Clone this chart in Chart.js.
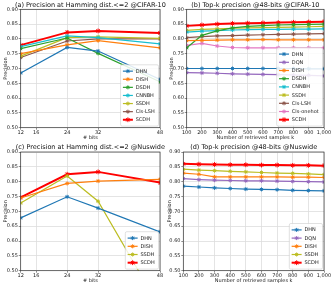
<!DOCTYPE html>
<html><head><meta charset="utf-8">
<script src="https://cdn.jsdelivr.net/npm/chart.js@4.4.1/dist/chart.umd.min.js"></script>
<style>
html,body{margin:0;padding:0;background:#fff;}
#wrap{position:relative;width:332px;height:286px;overflow:hidden;background:#fff}
canvas{position:absolute;left:0;top:0}
</style>
</head><body>
<div id="wrap">
<canvas id="ca" width="332" height="286"></canvas>
<canvas id="cb" width="332" height="286"></canvas>
<canvas id="cc" width="332" height="286"></canvas>
<canvas id="cd" width="332" height="286"></canvas>
</div>
<script>
// ---- data ----
const bitsCats = [12, 24, 32, 48];
const bitsTicks = [12, 16, 24, 32, 48];
const kCats = [100, 200, 300, 400, 500, 600, 700, 800, 900, 1000];
const kTicks = [100, 200, 300, 400, 500, 600, 700, 800, 900, 1000];
const yTicks = [0.50, 0.55, 0.60, 0.65, 0.70, 0.75, 0.80, 0.85, 0.90];

const titleA = "(a) Precision at Hamming dist.<=2 @CIFAR-10";
const titleB = "(b) Top-k precision @48-bits @CIFAR-10";
const titleC = "(c) Precision at Hamming dist.<=2 @Nuswide";
const titleD = "(d) Top-k precision @48-bits @Nuswide";

// (a)
const aDHN    = [0.685, 0.771, 0.759, 0.663];
const aDISH   = [0.750, 0.780, 0.794, 0.770];
const aDSDH   = [0.767, 0.803, 0.751, 0.655];
const aCNNBH  = [0.774, 0.810, 0.804, 0.783];
const aSSDH   = [0.742, 0.804, 0.807, 0.802];
const aClsLSH = [0.737, 0.793, 0.800, 0.800];
const aSCDH   = [0.779, 0.822, 0.827, 0.820];
// (b)
const bDHN       = [0.700, 0.700, 0.700, 0.700, 0.700, 0.700, 0.700, 0.700, 0.699, 0.699];
const bDQN       = [0.686, 0.685, 0.684, 0.682, 0.681, 0.680, 0.679, 0.678, 0.677, 0.675];
const bDISH      = [0.794, 0.795, 0.796, 0.797, 0.797, 0.798, 0.797, 0.797, 0.797, 0.797];
const bDSDH      = [0.770, 0.812, 0.827, 0.837, 0.842, 0.845, 0.847, 0.848, 0.849, 0.850];
const bCNNBH     = [0.823, 0.826, 0.828, 0.830, 0.831, 0.832, 0.832, 0.833, 0.833, 0.834];
const bSSDH      = [0.829, 0.832, 0.834, 0.836, 0.837, 0.838, 0.839, 0.840, 0.841, 0.842];
const bClsLSH    = [0.804, 0.808, 0.810, 0.811, 0.813, 0.814, 0.815, 0.816, 0.817, 0.818];
const bClsOnehot = [0.778, 0.785, 0.776, 0.771, 0.770, 0.770, 0.770, 0.770, 0.770, 0.770];
const bSCDH      = [0.844, 0.847, 0.850, 0.852, 0.853, 0.854, 0.855, 0.856, 0.857, 0.858];
// (c)
const cDHN  = [0.678, 0.749, 0.711, 0.631];
const cDISH = [0.745, 0.794, 0.802, 0.808];
const cSSDH = [0.728, 0.819, 0.734, 0.375];
const cSCDH = [0.747, 0.825, 0.833, 0.797];
// (d)
const dDHN  = [0.785, 0.782, 0.779, 0.777, 0.775, 0.774, 0.773, 0.771, 0.770, 0.769];
const dDQN  = [0.810, 0.807, 0.805, 0.804, 0.803, 0.803, 0.802, 0.801, 0.800, 0.799];
const dDISH = [0.829, 0.825, 0.816, 0.816, 0.816, 0.816, 0.816, 0.815, 0.815, 0.814];
const dSSDH = [0.842, 0.839, 0.837, 0.835, 0.833, 0.831, 0.829, 0.828, 0.826, 0.824];
const dSCDH = [0.860, 0.859, 0.858, 0.857, 0.857, 0.856, 0.856, 0.855, 0.855, 0.854];

// ---- styling ----
const COL = {
  DHN:'#1f77b4', DQN:'#9467bd', DISH:'#ff7f0e', DSDH:'#2ca02c', CNNBH:'#17becf',
  SSDH:'#bcbd22', 'Cls-LSH':'#8c564b', 'Cls-onehot':'#e377c2', SCDH:'#ff0000'
};
const FONT = 'DejaVu Sans';

function series(label, xs, ys) {
  const red = label === 'SCDH';
  return {
    label,
    data: xs.map((x, i) => ({x, y: ys[i]})),
    borderColor: COL[label], backgroundColor: COL[label],
    borderWidth: red ? 2 : 1.2,
    pointStyle: 'star', pointRadius: red ? 2.4 : 2.0, pointBorderWidth: 1,
    pointBackgroundColor: COL[label], pointBorderColor: COL[label],
    tension: 0, fill: false
  };
}

function xScale(min, max, ticks, label, h) {
  return {
    type: 'linear', min, max,
    afterBuildTicks: s => { s.ticks = ticks.map(v => ({value: v})); },
    ticks: {font: {family: FONT, size: 5}, color: '#222', padding: 0.5, autoSkip: false, maxRotation: 0},
    grid: {color: '#dddddd', lineWidth: 0.8, tickLength: 2, tickColor: '#444', tickWidth: 0.6},
    border: {display: false},
    title: {display: true, text: label, font: {family: FONT, size: 5}, color: '#222', padding: {top: 0, bottom: 2.5}},
    afterFit: s => { s.height = h; }
  };
}
function yScale(w, tpad) {
  return {
    type: 'linear', min: 0.5, max: 0.9,
    afterBuildTicks: s => { s.ticks = yTicks.map(v => ({value: v})); },
    ticks: {font: {family: FONT, size: 5}, color: '#222', padding: 0.8, autoSkip: false,
            callback: v => Number(v).toFixed(2)},
    grid: {color: '#dddddd', lineWidth: 0.8, tickLength: 2, tickColor: '#444', tickWidth: 0.6},
    border: {display: false},
    title: {display: true, text: 'Precision', font: {family: FONT, size: 5}, color: '#222', padding: {top: tpad, bottom: 0}},
    afterFit: s => { s.width = w; }
  };
}

const framePlugin = {
  id: 'frame',
  afterDatasetsDraw(chart) {
    const {ctx, chartArea: a} = chart;
    ctx.save();
    ctx.strokeStyle = '#333'; ctx.lineWidth = 0.7;
    ctx.strokeRect(a.left, a.top, a.right - a.left, a.bottom - a.top);
    ctx.restore();
  }
};
const titlePlugin = {
  id: 'ptitle',
  afterDraw(chart, args, opts) {
    const {ctx, chartArea: a} = chart;
    ctx.save();
    ctx.font = '6.5px "' + FONT + '"';
    ctx.fillStyle = '#111'; ctx.textAlign = 'center'; ctx.textBaseline = 'middle';
    ctx.fillText(opts.text, (a.left + a.right) / 2, a.top - 4.4);
    ctx.restore();
  }
};
const legendPlugin = {
  id: 'ilegend',
  afterDraw(chart, args, opts) {
    const {ctx, chartArea: a} = chart;
    const ds = chart.data.datasets;
    ctx.save();
    ctx.font = '5px "' + FONT + '"';
    const rowH = opts.rowH || 8.2, pad = 2.3, sample = 10, gap = 2.8;
    const tw = Math.max(...ds.map(d => ctx.measureText(d.label).width));
    const w = pad + sample + gap + tw + pad + 1.5;
    const h = pad * 2 + rowH * ds.length;
    const x = a.right - 1.5 - w, y = a.bottom - 1.6 - h;
    ctx.beginPath();
    if (ctx.roundRect) ctx.roundRect(x, y, w, h, 1.5); else ctx.rect(x, y, w, h);
    ctx.fillStyle = 'rgba(255,255,255,0.85)'; ctx.fill();
    ctx.strokeStyle = '#cccccc'; ctx.lineWidth = 0.6; ctx.stroke();
    ds.forEach((d, i) => {
      const cy = y + pad + rowH * (i + 0.5);
      ctx.strokeStyle = d.borderColor; ctx.lineWidth = d.borderWidth;
      ctx.beginPath(); ctx.moveTo(x + pad, cy); ctx.lineTo(x + pad + sample, cy); ctx.stroke();
      ctx.fillStyle = d.borderColor; ctx.lineWidth = 1;
      Chart.helpers.drawPoint(ctx, {pointStyle: 'star', radius: d.pointRadius, rotation: 0, borderWidth: 1}, x + pad + sample / 2, cy);
      ctx.fillStyle = '#222'; ctx.textAlign = 'left'; ctx.textBaseline = 'middle';
      ctx.fillText(d.label, x + pad + sample + gap, cy + 0.3);
    });
    ctx.restore();
  }
};

function make(id, datasets, xs, ys, pad, title, rowH) {
  new Chart(document.getElementById(id), {
    type: 'line',
    data: {datasets},
    options: {
      responsive: false, animation: false, devicePixelRatio: 1,
      layout: {padding: pad},
      scales: {x: xs, y: ys},
      plugins: {legend: {display: false}, tooltip: {enabled: false}, title: {display: false},
                ptitle: {text: title}, ilegend: {rowH}},
      events: []
    },
    plugins: [framePlugin, titlePlugin, legendPlugin]
  });
}

make('ca', [
  series('DHN', bitsCats, aDHN), series('DISH', bitsCats, aDISH), series('DSDH', bitsCats, aDSDH),
  series('CNNBH', bitsCats, aCNNBH), series('SSDH', bitsCats, aSSDH), series('Cls-LSH', bitsCats, aClsLSH),
  series('SCDH', bitsCats, aSCDH)
], xScale(12, 48, bitsTicks, '# bits', 15.3), yScale(20.7, 2.3),
  {left: 0, top: 9.3, right: 172, bottom: 143}, titleA, 8.1);

make('cb', [
  series('DHN', kCats, bDHN), series('DQN', kCats, bDQN), series('DISH', kCats, bDISH),
  series('DSDH', kCats, bDSDH), series('CNNBH', kCats, bCNNBH), series('SSDH', kCats, bSSDH),
  series('Cls-LSH', kCats, bClsLSH), series('Cls-onehot', kCats, bClsOnehot), series('SCDH', kCats, bSCDH)
], xScale(100, 1000, kTicks, 'Number of retrieved samples k', 15.3), yScale(20.7, 2.3),
  {left: 166, top: 9.3, right: 8, bottom: 143}, titleB, 8.2);

make('cc', [
  series('DHN', bitsCats, cDHN), series('DISH', bitsCats, cDISH),
  series('SSDH', bitsCats, cSSDH), series('SCDH', bitsCats, cSCDH)
], xScale(12, 48, bitsTicks, '# bits', 15.3), yScale(20.7, 2.3),
  {left: 0, top: 152, right: 172, bottom: 0}, titleC, 8.2);

make('cd', [
  series('DHN', kCats, dDHN), series('DQN', kCats, dDQN), series('DISH', kCats, dDISH),
  series('SSDH', kCats, dSSDH), series('SCDH', kCats, dSCDH)
], xScale(100, 1000, kTicks, 'Number of retrieved samples k', 15.3), yScale(17.3, 1.0),
  {left: 166, top: 152, right: 8, bottom: 0}, titleD, 8.2);
</script>
</body></html>
